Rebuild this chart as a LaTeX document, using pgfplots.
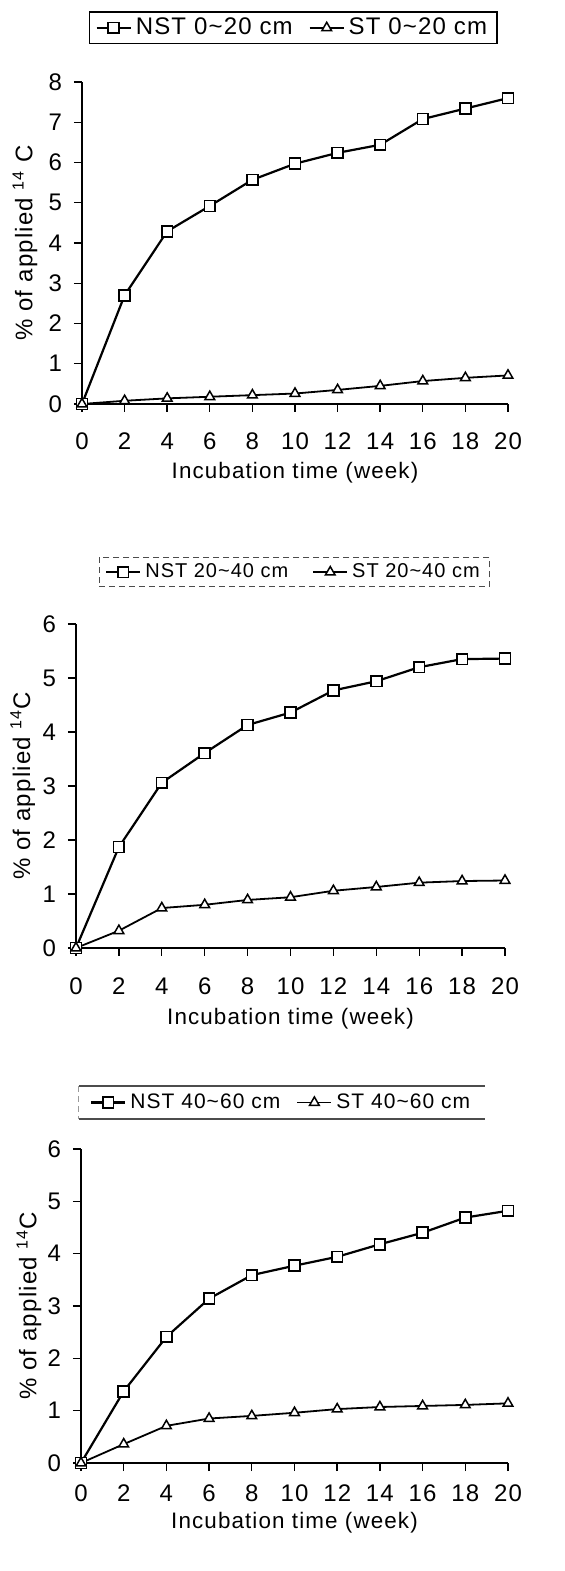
\documentclass[border=0pt]{standalone}
\usepackage{fontspec}
\setmainfont{Liberation Sans}[LetterSpace=5]
\usepackage{pgfplots}
\pgfplotsset{compat=1.18}

\newcommand{\lbl}{\fontsize{12}{14}\selectfont}
\newcommand{\xlbl}{\fontsize{11.2}{13}\selectfont}

\pgfplotsset{
  panel/.style={
    scale only axis,
    axis x line=bottom, axis y line=left,
    axis line style={-, line width=0.85pt},
    tick align=outside, major tick length=4pt,
    tick style={black, line width=0.7pt},
    xmin=0, xmax=20, ymin=0,
    xtick={0,2,...,20},
    enlargelimits=false, clip=false,
    /pgf/number format/assume math mode=true,
    tick label style={font=\lbl},
    yticklabel shift=2.5pt,
    xlabel={Incubation time (week)},
    legend columns=2, legend cell align=left,
    legend style={font=\lbl, anchor=center, inner ysep=1pt,
      /tikz/every even column/.append style={column sep=6pt}},
  },
  xlab/.style={every axis x label/.style={at={(axis description cs:0.5,-#1)}, anchor=center, font=\xlbl}},
  ylab/.style={every axis y label/.style={at={(axis description cs:-#1,0.5)}, rotate=90, anchor=center, font=\lbl}},
  nst/.style={black, line width=1.1pt, mark=square*, mark size=2.7pt,
    mark options={fill=white, line width=0.85pt, solid}},
  st/.style={black, line width=0.9pt, mark=triangle*, mark size=2.8pt,
    mark options={fill=white, line width=0.75pt, solid}},
}

\begin{document}
\begin{tikzpicture}
\useasboundingbox (0,0) rectangle (282pt,785.5pt);

% --- 0~20 cm ---
\begin{axis}[panel,
  at={(41pt,583.5pt)}, anchor=south west,
  width=213pt, height=161pt,
  ymax=8, ytick={0,1,...,8},
  xticklabel shift=7pt,
  ylabel={\% of applied \textsuperscript{14} C},
  ylab=0.134, xlab=0.212,
  legend style={at={(axis description cs:0.496,1.168)}, draw=black, line width=0.7pt},
]
\addplot[nst] coordinates {(0,0) (2,2.70) (4,4.29) (6,4.92) (8,5.57) (10,5.97) (12,6.24) (14,6.44) (16,7.08) (18,7.34) (20,7.60)};
\addplot[st] coordinates {(0,0) (2,0.08) (4,0.14) (6,0.18) (8,0.22) (10,0.26) (12,0.35) (14,0.45) (16,0.57) (18,0.65) (20,0.71)};
\legend{NST 0\textasciitilde 20 cm, ST 0\textasciitilde 20 cm}
\end{axis}

% --- 20~40 cm ---
\begin{axis}[panel,
  at={(38pt,311.5pt)}, anchor=south west,
  width=214.5pt, height=162pt,
  ymax=6, ytick={0,1,...,6},
  xticklabel shift=7.5pt,
  ylabel={\% of applied \textsuperscript{14}C},
  ylab=0.124, xlab=0.219,
  legend style={at={(axis description cs:0.509,1.160)}, draw=black!70, densely dashed,
    font=\fontsize{10}{12}\selectfont,
    /tikz/every even column/.append style={column sep=10pt}},
]
\addplot[nst] coordinates {(0,0) (2,1.87) (4,3.06) (6,3.61) (8,4.13) (10,4.36) (12,4.77) (14,4.94) (16,5.20) (18,5.35) (20,5.36)};
\addplot[st] coordinates {(0,0) (2,0.32) (4,0.74) (6,0.80) (8,0.89) (10,0.94) (12,1.06) (14,1.13) (16,1.21) (18,1.24) (20,1.25)};
\legend{NST 20\textasciitilde 40 cm, ST 20\textasciitilde 40 cm}
\end{axis}

% --- 40~60 cm ---
\begin{axis}[panel,
  at={(40.5pt,54pt)}, anchor=south west,
  width=213.5pt, height=157pt,
  ymax=6, ytick={0,1,...,6},
  xticklabel shift=3.5pt,
  ylabel={\% of applied \textsuperscript{14}C},
  ylab=0.122, xlab=0.19,
  legend style={at={(axis description cs:0.471,1.148)}, draw=none,
    font=\fontsize{10.5}{12.5}\selectfont},
]
\addplot[nst] coordinates {(0,0) (2,1.37) (4,2.41) (6,3.14) (8,3.59) (10,3.77) (12,3.94) (14,4.18) (16,4.40) (18,4.69) (20,4.82)};
\addplot[st] coordinates {(0,0) (2,0.36) (4,0.71) (6,0.85) (8,0.90) (10,0.96) (12,1.03) (14,1.07) (16,1.09) (18,1.11) (20,1.14)};
\legend{NST 40\textasciitilde 60 cm, ST 40\textasciitilde 60 cm}
\draw[black!70, line width=0.6pt] (axis description cs:-0.005,1.2006) -- (axis description cs:0.946,1.2006);
\draw[black!70, line width=0.6pt] (axis description cs:-0.005,1.0955) -- (axis description cs:0.946,1.0955);
\draw[black!40, densely dashed, line width=0.4pt] (axis description cs:-0.005,1.2006) -- (axis description cs:-0.005,1.0955);
\end{axis}
\end{tikzpicture}
\end{document}
